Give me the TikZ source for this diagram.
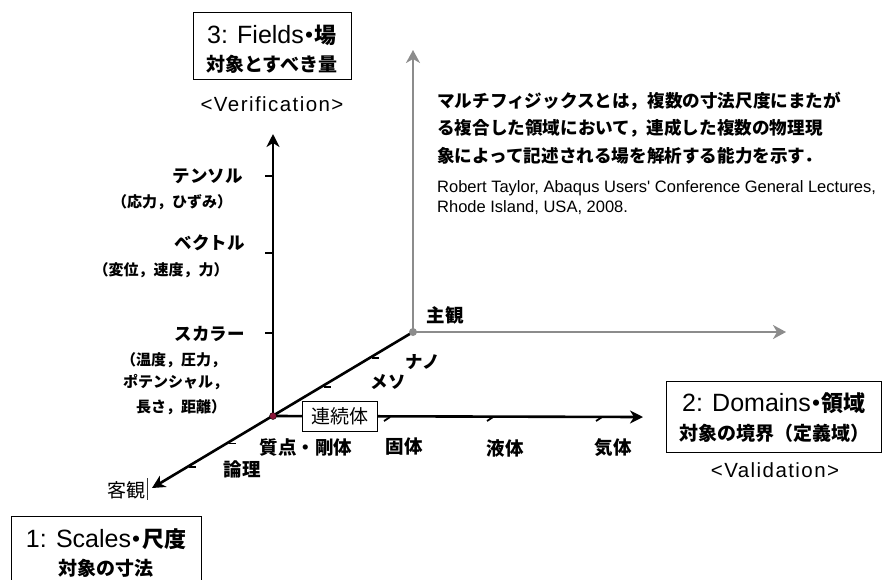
\documentclass[tikz,border=0pt]{standalone}
\usepackage{fontspec}
\setmainfont{Noto Sans CJK JP}
\newfontfamily\jpp{Noto Sans CJK JP}[RawFeature=+palt]
\newfontfamily\lat{Liberation Sans}
\newfontfamily\latsp{Liberation Sans}[LetterSpace=7]
\usetikzlibrary{arrows.meta}
\definecolor{axisgray}{HTML}{8C8C8C}
\definecolor{dotred}{HTML}{8B1538}
\begin{document}
\begin{tikzpicture}[x=1pt,y=-1pt,
  lbl/.style={font=\fontsize{18.5}{22}\selectfont\bfseries, inner sep=0},
  kata/.style={font=\fontsize{17.5}{21}\selectfont\bfseries, inner sep=0},
  sub/.style={font=\fontsize{15}{18}\selectfont\bfseries, inner sep=0},
  plain/.style={font=\fontsize{19}{22}\selectfont, inner sep=0},
  ttl/.style={font=\fontsize{25}{28}\selectfont\lat, inner sep=0},
  ttlsub/.style={font=\fontsize{19}{22}\selectfont\bfseries, inner sep=0},
  vv/.style={font=\fontsize{20.5}{24}\selectfont\latsp, inner sep=0},
  para/.style={font=\fontsize{17.6}{22}\selectfont\bfseries, inner sep=0, anchor=west},
  cite/.style={font=\fontsize{16.5}{20}\selectfont\lat, inner sep=0, anchor=west},
  titlebox/.style={draw, line width=1pt, fill=white, inner sep=0},
  axis/.style={line width=2.6pt, -{Stealth[length=13pt,width=13pt,inset=4pt]}},
  gaxis/.style={line width=2pt, axisgray, -{Stealth[length=13pt,width=14pt,inset=4pt]}},
  tickmark/.style={line width=2pt}
]
\useasboundingbox (0,0) rectangle (882,579);
\begin{scope}
\clip (0,0) rectangle (882,579);
% coordinates
\coordinate (O) at (273,416);
\coordinate (G) at (413,332);
\coordinate (Ztip) at (273,134);
\coordinate (Xtip) at (643,417);
\coordinate (Ytip) at (152,488);
\coordinate (GZ) at (413,50);
\coordinate (GX) at (786,332);
% gray axes
\draw[gaxis] (G) -- (GZ);
\draw[gaxis] (G) -- (GX);
% black axes
\draw[axis] (G) -- (Ytip);
\draw[axis] (O) -- (Ztip);
\draw[axis] (O) -- (Xtip);
% ticks on vertical axis
\foreach \yy in {176,253,333} \draw[tickmark] (265,\yy) -- (273,\yy);
% ticks on diagonal axis
\foreach \xx in {373,325,230,190} {
  \pgfmathsetmacro{\yy}{332+(413-\xx)*0.598}
  \draw[line width=1.8pt] (\xx-1,\yy+2) -- (\xx+6,\yy+2);
}
% ticks on horizontal axis
\foreach \xx in {387,490,599} \draw[line width=1.8pt] (\xx+3,417) -- (\xx-3,421);
% dots
\node[circle, fill=axisgray, minimum size=8pt, inner sep=0] (gdot) at (G) {};
\node[circle, fill=dotred, draw=black, line width=0.4pt, minimum size=7pt, inner sep=0] (odot) at (O) {};
% boxes
\node[titlebox, minimum width=158pt, minimum height=67pt] (box3) at (272,45.5) {};
\node[ttl] (t3a) at (272,35) {3: Fields{\jpp\bfseries\fontsize{22}{26}\selectfont ・場}};
\node[ttlsub] (t3b) at (272,64) {対象とすべき量};
\node[vv] (ver) at (272,104) {<Verification>};

\node[titlebox, minimum width=215pt, minimum height=71pt] (box2) at (773.5,416.5) {};
\node[ttl] (t2a) at (774,403) {2: Domains{\jpp\bfseries\fontsize{22}{26}\selectfont ・領域}};
\node[ttlsub] (t2b) at (774,433) {対象の境界（定義域）};
\node[vv] (val) at (775,470) {<Validation>};

\node[titlebox, minimum width=190pt, minimum height=76pt] (box1) at (106,554) {};
\node[ttl] (t1a) at (106,539) {1: Scales{\jpp\bfseries\fontsize{22}{26}\selectfont ・尺度}};
\node[ttlsub] (t1b) at (106,568) {対象の寸法};

% vertical axis labels
\node[kata, anchor=east] (ten) at (243,176) {テンソル};
\node[sub] (tens) at (172,202) {（応力，ひずみ）};
\node[kata, anchor=east] (vec) at (245,243) {ベクトル};
\node[sub] (vecs) at (161,270) {（変位，速度，力）};
\node[kata, anchor=east] (sca) at (245,334) {スカラー};
\node[sub, anchor=west] (sca1) at (121,360) {（温度，圧力，};
\node[sub, anchor=west] (sca2) at (123,382) {ポテンシャル，};
\node[sub, anchor=west] (sca3) at (136,407) {長さ，距離）};

% horizontal axis labels
\node[titlebox, font=\fontsize{19}{22}\selectfont, minimum width=75pt, minimum height=30pt, line width=0.8pt] (cont) at (340,416) {連続体};
\node[lbl] (pt) at (306,447) {質点・剛体};
\node[lbl] (sol) at (404,447) {固体};
\node[lbl] (liq) at (505,448) {液体};
\node[lbl] (gas) at (613,448) {気体};

% diagonal axis labels
\node[kata] (nano) at (423,362) {ナノ};
\node[kata] (meso) at (388,382) {メソ};
\node[lbl] (logic) at (242,469) {論理};
\node[plain] (obj) at (126,490) {客観};
\draw[line width=0.6pt, black!80] (147,478) -- (147,500);
\node[lbl] (subj) at (445,315) {主観};

% paragraph
\node[para] (p1) at (437,101.5) {マルチフィジックスとは，複数の寸法尺度にまたが};
\node[para] (p2) at (437,128.5) {る複合した領域において，連成した複数の物理現};
\node[para] (p3) at (437,155.5) {象によって記述される場を解析する能力を示す．};
\node[cite] (c1) at (437,188) {Robert Taylor, Abaqus Users' Conference General Lectures,};
\node[cite] (c2) at (437,208) {Rhode Island, USA, 2008.};
\end{scope}
\end{tikzpicture}
\end{document}
